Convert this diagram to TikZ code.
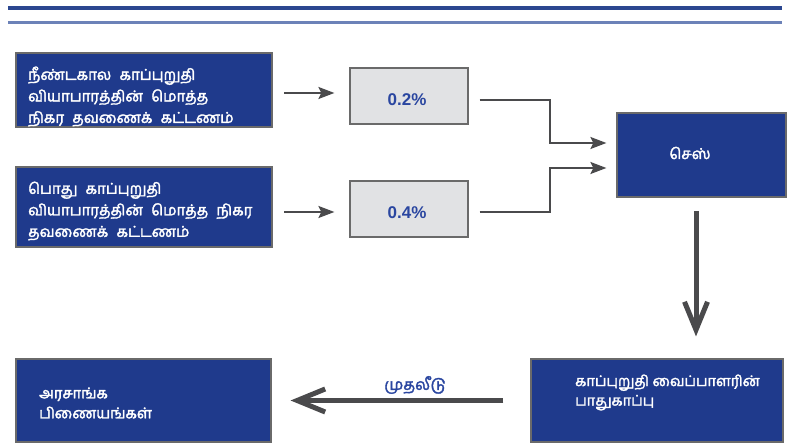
\documentclass[tikz,border=0pt]{standalone}
\usepackage{fontspec}
\setmainfont{Liberation Sans}
\newfontfamily\tam[Script=Tamil, FakeBold=2.2]{Hind Madurai}
\newcommand\mywidesp{\spaceskip=0.55em plus 0.1em\relax}
\usetikzlibrary{arrows.meta}
\definecolor{boxblue}{HTML}{1F3A8C}
\definecolor{boxedge}{HTML}{6A6A6A}
\definecolor{greyfill}{HTML}{E1E2E4}
\definecolor{arrgrey}{HTML}{4A4A4C}
\definecolor{txtblue}{HTML}{2A46A0}
\definecolor{topdark}{HTML}{2B4790}
\definecolor{toplight}{HTML}{6C82B8}
\tikzset{
  bluebox/.style={draw=boxedge, line width=1.2pt, fill=boxblue, inner sep=0pt},
  greybox/.style={draw=boxedge, line width=1.2pt, fill=greyfill, inner sep=0pt, minimum width=118pt, minimum height=56pt},
  tamtxt/.style={text=white, font={\tam\fontsize{15}{21.5}\selectfont\mywidesp}, align=left, inner sep=0pt},
  pcttxt/.style={text=txtblue, font=\bfseries\fontsize{17}{20}\selectfont, inner sep=0pt},
  thinarr/.style={draw=arrgrey, line width=2pt, -{Stealth[length=16pt, width=12pt, inset=3pt]}},
  bigarr/.style={draw=arrgrey, line width=5pt, -{Straight Barb[length=28pt, width=23pt]}}
}
\begin{document}
\begin{tikzpicture}[x=1pt,y=1pt]
\useasboundingbox (0,0) rectangle (789,446);
% top rules
\fill[topdark] (8,436) rectangle (782,440);
\fill[toplight] (8,422) rectangle (782,425);
% boxes
\node[bluebox, minimum width=256pt, minimum height=74pt] (b1) at (144,356) {};
\node[bluebox, minimum width=256pt, minimum height=80pt] (b2) at (144,239) {};
\node[greybox] (g1) at (409,350) {};
\node[greybox] (g2) at (409,237) {};
\node[bluebox, minimum width=169pt, minimum height=84pt] (cess) at (701.5,291) {};
\node[bluebox, minimum width=252pt, minimum height=83pt] (br) at (657,45.5) {};
\node[bluebox, minimum width=255pt, minimum height=83pt] (bl) at (143.5,45.5) {};
% texts
\node[tamtxt, anchor=west] (t1) at (28,349.5) {நீண்டகால காப்புறுதி\\வியாபாரத்தின் மொத்த\\நிகர தவணைக் கட்டணம்};
\node[tamtxt, anchor=west] (t2) at (28,235) {பொது காப்புறுதி\\வியாபாரத்தின் மொத்த நிகர\\தவணைக் கட்டணம்};
\node[pcttxt] (p1) at (407,346) {0.2\%};
\node[pcttxt] (p2) at (407,233) {0.4\%};
\node[tamtxt, font={\tam\fontsize{15}{18}\selectfont}] (tc) at (690,293) {செஸ்};
\node[tamtxt, anchor=west, font={\tam\fontsize{14.6}{19.5}\selectfont}] (tbr) at (575,53.5) {காப்புறுதி வைப்பாளரின்\\பாதுகாப்பு};
\node[tamtxt, anchor=west, font={\tam\fontsize{14.8}{20}\selectfont}] (tbl) at (39,43) {அரசாங்க\\பிணையங்கள்};
\node[text=txtblue, font={\tam\fontsize{15.5}{18}\selectfont}, inner sep=0pt] (lab) at (415,61) {முதலீடு};
% connectors
\coordinate (s1) at (284,353);
\coordinate (s2) at (284,234);
\draw[thinarr, shorten >=15pt] (s1) -- (s1 -| g1.west);
\draw[thinarr, shorten >=15pt] (s2) -- (s2 -| g2.west);
\draw[thinarr, shorten <=11pt, shorten >=10pt] ([yshift=-4pt]g1.east) -- ++(81,0) |- ([yshift=12pt]cess.west);
\draw[thinarr, shorten <=11pt, shorten >=10pt] ([yshift=-3pt]g2.east) -- ++(81,0) |- ([yshift=-13pt]cess.west);
\coordinate (d1) at (696,235);
\draw[bigarr, shorten >=22pt] (d1) -- (d1 |- br.north);
\draw[bigarr, shorten <=27pt, shorten >=19pt] (br.west) -- (bl.east);
\end{tikzpicture}
\end{document}
